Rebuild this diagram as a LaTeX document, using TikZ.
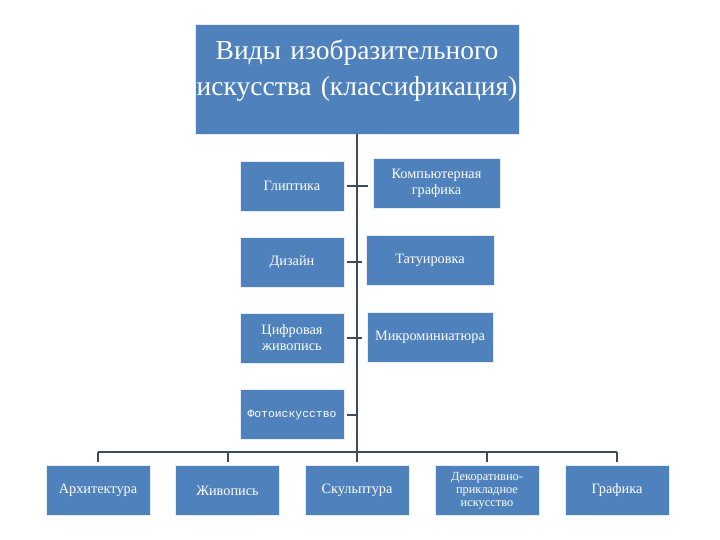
\documentclass[tikz,border=0pt]{standalone}
\usepackage{fontspec}
\setmainfont{Liberation Serif}
\newfontfamily\monofont{Liberation Mono}
\usepackage{xcolor}
\usetikzlibrary{positioning, calc}

\definecolor{boxblue}{HTML}{4F81BD}
\definecolor{linkgray}{HTML}{3C4B60}

\begin{document}
\begin{tikzpicture}[
      x=1pt, y=-1pt,
      headbox/.style={
          draw=white!85!boxblue, rectangle, fill=boxblue,
          minimum width=324pt, minimum height=110pt, text width=324pt,
          inner sep=0pt, align=center, text=white,
          font=\fontsize{27.5}{36}\selectfont
        },
      kind/.style={
          draw=white!85!boxblue, rectangle, fill=boxblue,
          minimum width=104pt, minimum height=50pt, align=center,
          text=white, inner sep=2pt,
          font=\fontsize{14.3}{16}\selectfont
        },
      link/.style={line width=2pt, color=linkgray},
      tick/.style={line width=2pt, color=linkgray, shorten >=3pt}
    ]
    \useasboundingbox (0,0) rectangle (720,540);

    % ── Title ──
    \node[headbox] (title) at (357,79)
      {Виды изобразительного\\искусства (классификация)\par\vspace{16pt}};

    % ── Left column ──
    \node[kind] (glip) at (292,186) {Глиптика};
    \node[kind] (diz)  at (292,262) {Дизайн};
    \node[kind] (cifr) at (292,338) {Цифровая\\живопись};
    \node[kind, font=\monofont\fontsize{11.4}{13}\selectfont] (foto) at (292,414.5) {Фотоискусство};

    % ── Right column ──
    \node[kind, minimum width=127pt] (comp)  at (436.5,183.5) {Компьютерная\\графика};
    \node[kind, minimum width=128pt] (tat)   at (430,260.5) {Татуировка};
    \node[kind, minimum width=126pt] (micro) at (430,337) {Микроминиатюра};

    % ── Bottom row ──
    \node[kind] (arch) at (98,490.5)  {Архитектура};
    \node[kind] (zhiv) at (227.5,490.5) {Живопись};
    \node[kind] (skul) at (357,490.5) {Скульптура};
    \node[kind, font=\fontsize{12.4}{13}\selectfont] (deko) at (487,490.5)
      {Декоративно-\\прикладное\\искусство};
    \node[kind] (graf) at (617,490.5) {Графика};

    % ── Trunk and bus ──
    \coordinate (busL) at (98,452);
    \coordinate (busR) at (617,452);
    \draw[link] (title.south) -- (title.south |- busL);
    \draw[link] (busL) -- (busR);

    \draw[tick] (arch.north |- busL) -- (arch.north);
    \draw[tick] (zhiv.north |- busL) -- (zhiv.north);
    \draw[tick] (skul.north |- busL) -- (skul.north);
    \draw[tick] (deko.north |- busL) -- (deko.north);
    \draw[tick] (graf.north |- busL) -- (graf.north);

    % ── Side stubs ──
    \draw[link, shorten <=3pt] (glip.east) -- (glip.east -| title.south);
    \draw[link, shorten <=3pt] (diz.east)  -- (diz.east -| title.south);
    \draw[link, shorten <=3pt] (cifr.east) -- (cifr.east -| title.south);
    \draw[link, shorten <=3pt] (foto.east) -- (foto.east -| title.south);

    \draw[link, shorten >=5pt] (glip.east -| title.south) -- (glip.east -| comp.west);
    \draw[link, shorten >=4pt] (diz.east -| title.south)  -- (diz.east -| tat.west);
    \draw[link, shorten >=5pt] (cifr.east -| title.south) -- (cifr.east -| micro.west);

  \end{tikzpicture}
\end{document}
